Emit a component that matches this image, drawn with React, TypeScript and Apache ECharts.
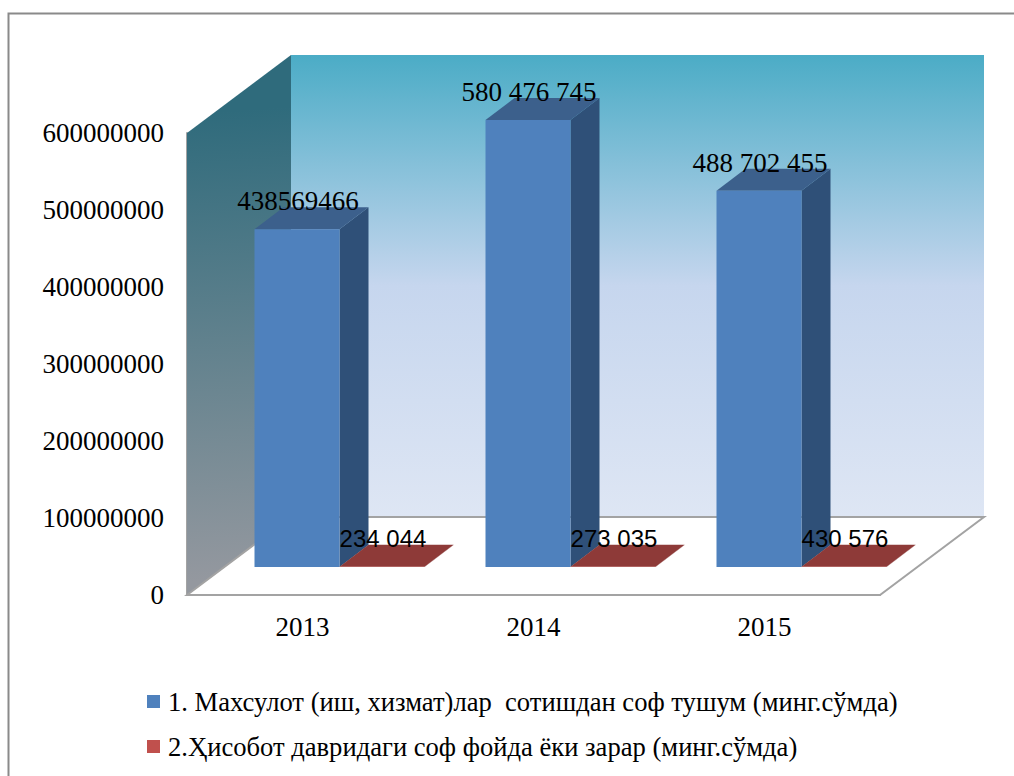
import React, { useEffect, useRef } from "react";
import * as echarts from "echarts";

const categories = ["2013", "2014", "2015"];
const revenueName = "1. Махсулот (иш, хизмат)лар  сотишдан соф тушум (минг.сўмда)";
const profitName = "2.Ҳисобот давридаги соф фойда ёки зарар (минг.сўмда)";
const revenue = [438569466, 580476745, 488702455];
const profit = [234044, 273035, 430576];
const revenueLabels = ["438569466", "580 476 745", "488 702 455"];
const profitLabels = ["234 044", "273 035", "430 576"];
const axisMin = 0;
const axisMax = 600000000;
const axisStep = 100000000;

const SERIF = "'Liberation Serif', 'Times New Roman', serif";
const SANS = "'Liberation Sans', Arial, sans-serif";
const GRAY = "#a3a3a3";
const WALL_DX = 104;
const WALL_DY = 78;
const BAR_DX = 37;
const BAR_DY = 28;
const BAR_W = 85;
const BAR_DEPTH_X = 29;
const BAR_DEPTH_Y = 22;

function poly(points: number[][], fill: any, extra: any = {}) {
  return { type: "polygon", shape: { points }, style: { fill, ...extra } };
}

function barRenderer(
  labels: string[],
  front: string,
  top: string,
  side: string,
  slot: number,
  labelFont: string,
  labelSize: number
) {
  return (params: any, api: any) => {
    const i = api.value(0);
    const c = api.coord([i, api.value(1)]);
    const base = api.coord([i, 0]);
    const x0 = c[0] + BAR_DX + slot * BAR_W;
    const x1 = x0 + BAR_W;
    const yT = c[1] - BAR_DY;
    const yB = base[1] - BAR_DY;
    const dx = BAR_DEPTH_X;
    const dy = BAR_DEPTH_Y;
    return {
      type: "group",
      children: [
        poly([[x1, yT], [x1 + dx, yT - dy], [x1 + dx, yB - dy], [x1, yB]], side),
        poly([[x0, yT], [x1, yT], [x1 + dx, yT - dy], [x0 + dx, yT - dy]], top),
        poly([[x0, yT], [x1, yT], [x1, yB], [x0, yB]], front),
        {
          type: "text",
          z2: 10,
          style: {
            text: labels[params.dataIndex],
            x: (x0 + x1) / 2 + 1,
            y: yT - 28,
            align: "center",
            verticalAlign: "middle",
            fill: "#000",
            fontFamily: labelFont,
            fontSize: labelSize,
          },
        },
      ],
    };
  };
}

function renderWalls(params: any) {
  const g = params.coordSys;
  const l = g.x;
  const r = g.x + g.width;
  const t = g.y;
  const b = g.y + g.height;
  const backWall = new echarts.graphic.LinearGradient(0, 0, 0, 1, [
    { offset: 0, color: "#4bacc6" },
    { offset: 0.5, color: "#c6d6ee" },
    { offset: 1, color: "#dee6f4" },
  ]);
  const sideWall = new echarts.graphic.LinearGradient(
    l, t - 20, l + 28, b - 15,
    [
      { offset: 0, color: "#2f6b7c" },
      { offset: 1, color: "#94989f" },
    ],
    true
  );
  return {
    type: "group",
    children: [
      poly([[l + WALL_DX, t - WALL_DY], [r + WALL_DX, t - WALL_DY], [r + WALL_DX, b - WALL_DY], [l + WALL_DX, b - WALL_DY]], backWall),
      poly([[l, t], [l + WALL_DX, t - WALL_DY], [l + WALL_DX, b - WALL_DY], [l, b]], sideWall),
      poly([[l, b], [l + WALL_DX, b - WALL_DY], [r + WALL_DX, b - WALL_DY], [r, b]], "#ffffff", { stroke: GRAY, lineWidth: 2 }),
    ],
  };
}

export default function App() {
  const ref = useRef<HTMLDivElement>(null);
  useEffect(() => {
    const chart = echarts.init(ref.current!, null, { renderer: "svg" });
    chart.setOption({
      animation: false,
      backgroundColor: "#ffffff",
      grid: { left: 187, top: 133, width: 693, height: 462 },
      graphic: [
        {
          type: "polyline",
          shape: { points: [[8.5, 776], [8.5, 13.5], [1014, 13.5]] },
          style: { fill: "none", stroke: "#8a8a8a", lineWidth: 2 },
        },
      ],
      legend: {
        orient: "vertical",
        left: 147,
        top: 688,
        padding: 0,
        itemWidth: 13,
        itemHeight: 13,
        itemGap: 18,
        icon: "rect",
        selectedMode: false,
        data: [revenueName, profitName],
        textStyle: { fontFamily: SERIF, fontSize: 26.6, color: "#000", padding: [0, 0, 0, 3] },
      },
      xAxis: {
        type: "category",
        data: categories,
        axisTick: { show: false },
        axisLine: { lineStyle: { color: GRAY, width: 2 } },
        axisLabel: { margin: 18, color: "#000", fontFamily: SERIF, fontSize: 27 },
      },
      yAxis: {
        type: "value",
        min: axisMin,
        max: axisMax,
        interval: axisStep,
        splitLine: { show: false },
        axisTick: { show: false },
        axisLine: { show: true, lineStyle: { color: GRAY, width: 2 } },
        axisLabel: {
          margin: 23,
          color: "#000",
          fontFamily: SERIF,
          fontSize: 27,
          formatter: (v: number) => String(v),
        },
      },
      series: [
        {
          type: "custom",
          name: "walls",
          silent: true,
          z: 1,
          clip: false,
          data: [[0, 0]],
          encode: { x: 0, y: 1 },
          renderItem: renderWalls,
        },
        {
          type: "custom",
          name: revenueName,
          z: 3,
          clip: false,
          itemStyle: { color: "#4f81bd" },
          data: revenue.map((v, i) => [i, v]),
          encode: { x: 0, y: 1 },
          renderItem: barRenderer(revenueLabels, "#4f81bd", "#3c608c", "#2f5078", -1, SERIF, 27),
        },
        {
          type: "custom",
          name: profitName,
          z: 4,
          clip: false,
          itemStyle: { color: "#c0504d" },
          data: profit.map((v, i) => [i, v]),
          encode: { x: 0, y: 1 },
          renderItem: barRenderer(profitLabels, "#c0504d", "#8e3a38", "#7a312f", 0, SANS, 24),
        },
      ],
    });
    return () => chart.dispose();
  }, []);
  return <div ref={ref} style={{ position: "fixed", left: 0, top: 0, width: 1014, height: 776 }} />;
}
